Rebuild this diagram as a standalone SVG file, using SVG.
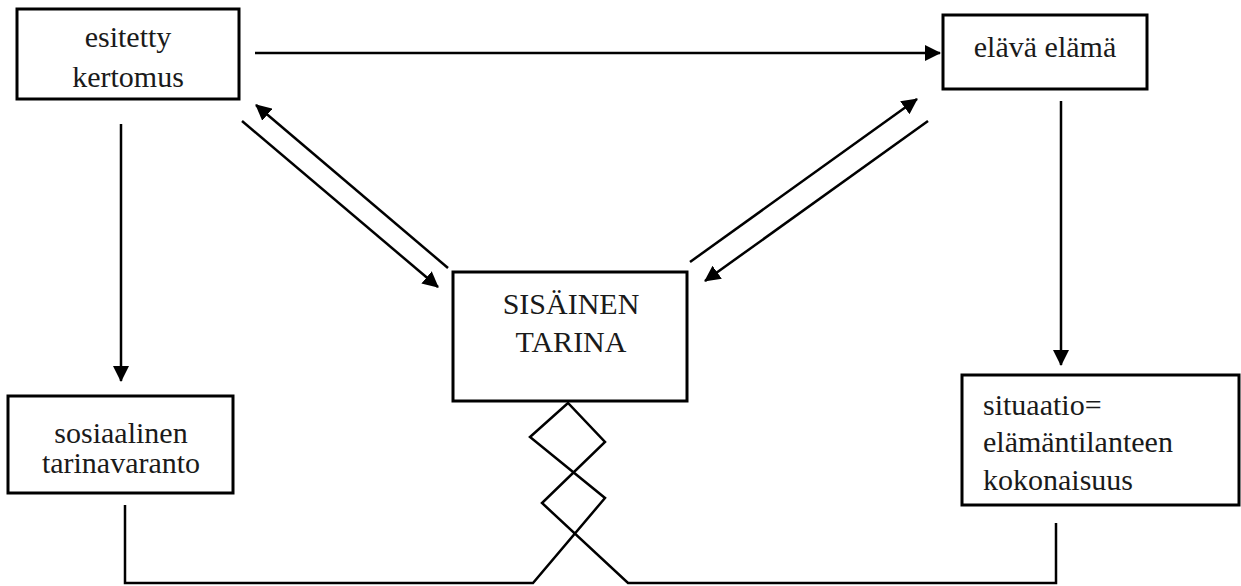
<svg xmlns="http://www.w3.org/2000/svg" width="1241" height="586" viewBox="0 0 1241 586">
<style>
.box{fill:#fff;stroke:#000;stroke-width:3}
.c{text-anchor:middle}
.ln{fill:none;stroke:#000;stroke-width:2.5}
.ar{marker-end:url(#ah)}
</style>
<defs>
<marker id="ah" markerUnits="userSpaceOnUse" viewBox="0 0 16 16" refX="15" refY="8" markerWidth="16" markerHeight="16" orient="auto">
<path d="M0,0 L16,8 L0,16 z" fill="#000"/>
</marker>
</defs>
<rect width="1241" height="586" fill="#fff"/>
<g id="connectors">
<line class="ln ar" x1="255" y1="53" x2="940" y2="53"/>
<line class="ln ar" x1="121" y1="124" x2="121" y2="381"/>
<line class="ln ar" x1="1061" y1="101" x2="1061" y2="365"/>
<line class="ln ar" x1="448" y1="268" x2="256" y2="105"/>
<line class="ln ar" x1="242" y1="121" x2="438" y2="287"/>
<line class="ln ar" x1="690" y1="262" x2="917" y2="99"/>
<line class="ln ar" x1="928" y1="121" x2="705" y2="281"/>
<polyline class="ln" points="125,505 125,583 533,583 605,498 530,437 568,403 605,442 542,503 628,583 1056,583 1056,523"/>
</g>
<g font-family="Liberation Serif, DejaVu Serif, serif" font-size="30" fill="#1a1a1a">
<g id="n-esitetty">
<rect class="box" x="17" y="9" width="222" height="90"/>
<text class="c" x="128" y="47">esitetty</text>
<text class="c" x="128" y="87">kertomus</text>
</g>
<g id="n-elava">
<rect class="box" x="943" y="15" width="204" height="74"/>
<text class="c" x="1045" y="57">elävä elämä</text>
</g>
<g id="n-sisainen">
<rect class="box" x="453" y="272" width="234" height="129"/>
<text class="c" x="571" y="314">SISÄINEN</text>
<text class="c" x="571" y="352">TARINA</text>
</g>
<g id="n-sosiaalinen">
<rect class="box" x="8" y="396" width="225" height="97"/>
<text class="c" x="121" y="443">sosiaalinen</text>
<text class="c" x="121" y="473">tarinavaranto</text>
</g>
<g id="n-situaatio">
<rect class="box" x="962" y="375" width="277" height="130"/>
<text x="983" y="415">situaatio=</text>
<text x="983" y="452">elämäntilanteen</text>
<text x="983" y="490">kokonaisuus</text>
</g>
</g>
</svg>
